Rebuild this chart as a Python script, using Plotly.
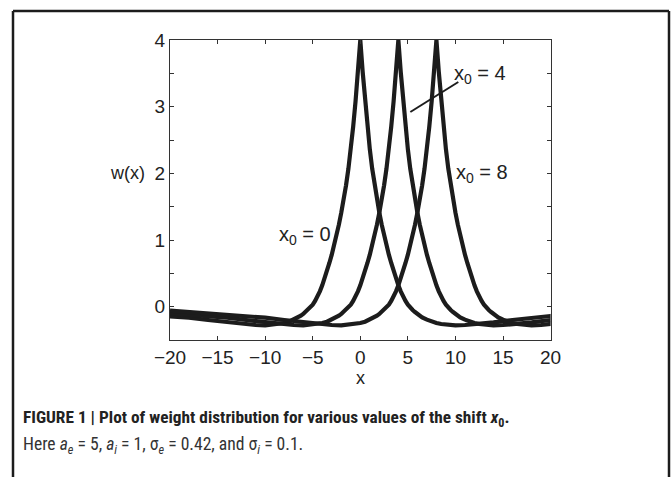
import plotly.graph_objects as go

# ---- data ----
shifts = [0, 4, 8]                      # x0 values
# one-sided profile of w around its peak (distance from x0, value)
offsets = [0, 0.25, 0.5, 0.75, 1, 1.25, 1.5, 1.75, 2, 2.25, 2.5, 2.75, 3, 3.25,
           3.5, 3.75, 4, 4.25, 4.5, 4.75, 5, 5.25, 5.5, 5.75, 6, 6.25, 6.5, 7,
           7.5, 8, 8.5, 9, 9.5, 10, 11, 12, 14, 16, 18, 20, 22, 24, 26, 28]
profile = [4.0, 3.52, 3.08, 2.7, 2.36, 2.07, 1.82, 1.6, 1.41, 1.23, 1.06, 0.92,
           0.78, 0.655, 0.53, 0.42, 0.32, 0.23, 0.15, 0.085, 0.03, -0.015, -0.05,
           -0.08, -0.11, -0.135, -0.16, -0.195, -0.225, -0.245, -0.26, -0.27,
           -0.275, -0.28, -0.275, -0.265, -0.235, -0.2, -0.165, -0.14, -0.12,
           -0.1, -0.08, -0.06]
x_ticks = [-20, -15, -10, -5, 0, 5, 10, 15, 20]
x_ticklabels = ["\u221220", "\u221215", "\u221210", "\u22125", "0", "5", "10", "15", "20"]
y_ticks = [-0.5, 0, 0.5, 1, 1.5, 2, 2.5, 3, 3.5, 4]
y_ticklabels = ["", "0", "", "1", "", "2", "", "3", "", "4"]

W, H = 671, 477
FONT = "Liberation Sans, Arial, Helvetica, sans-serif"
NARROW = "Liberation Sans Narrow, Arial Narrow, Roboto Condensed, sans-serif"
INK = "#1c1c1c"

fig = go.Figure()
for x0 in shifts:
    xs = [x0 - d for d in reversed(offsets[1:])] + [x0 + d for d in offsets]
    ys = list(reversed(profile[1:])) + list(profile)
    fig.add_trace(go.Scatter(x=xs, y=ys, mode="lines",
                             line=dict(color=INK, width=4.2), showlegend=False,
                             hoverinfo="skip", cliponaxis=True))

def px_x(p):
    return p / W

def px_y(p):
    return 1 - p / H

axis_common = dict(showgrid=False, zeroline=False, showline=True, linecolor="#333",
                   linewidth=1, ticks="inside", ticklen=4, tickcolor="#333",
                   mirror="ticks", automargin=False,
                   tickfont=dict(family=FONT, size=19, color="#222"))

fig.update_layout(
    width=W, height=H,
    margin=dict(l=0, r=0, t=0, b=0, pad=0, autoexpand=False),
    autosize=False,
    paper_bgcolor="white", plot_bgcolor="white",
    xaxis=dict(range=[-20, 20], domain=[px_x(170), px_x(550.6)],
               tickvals=x_ticks, ticktext=x_ticklabels, **axis_common),
    yaxis=dict(range=[-0.5, 4], domain=[px_y(340), px_y(40)],
               tickvals=y_ticks, ticktext=y_ticklabels, **axis_common),
)

ann = []
# axis labels
ann.append(dict(text="w(x)", xref="paper", yref="y", x=px_x(147), y=2,
                xanchor="right", yanchor="middle", showarrow=False,
                font=dict(family=FONT, size=18, color="#222")))
ann.append(dict(text="x", xref="paper", yref="paper", x=px_x(360), y=px_y(378),
                xanchor="center", yanchor="middle", showarrow=False,
                font=dict(family=FONT, size=18, color="#222")))
# curve labels
lab_font = dict(family=FONT, size=20, color="#222")
ann.append(dict(text="x<sub>0</sub> = 0", xref="paper", yref="paper",
                x=px_x(277), y=px_y(236), xanchor="left", yanchor="middle",
                showarrow=False, font=lab_font))
ann.append(dict(text="x<sub>0</sub> = 4", xref="paper", yref="paper",
                x=px_x(452), y=px_y(75), xanchor="left", yanchor="middle",
                showarrow=False, font=lab_font))
ann.append(dict(text="x<sub>0</sub> = 8", xref="paper", yref="paper",
                x=px_x(454), y=px_y(173), xanchor="left", yanchor="middle",
                showarrow=False, font=lab_font))
# caption
ann.append(dict(text="<b>FIGURE 1 | Plot of weight distribution for various values of the shift <i>x</i><sub>0</sub>.</b>",
                xref="paper", yref="paper", x=px_x(21), y=px_y(418),
                xanchor="left", yanchor="middle", showarrow=False,
                font=dict(family=NARROW, size=17.3, color="#222")))
ann.append(dict(text="Here <i>a</i><sub><i>e</i></sub> = 5, <i>a</i><sub><i>i</i></sub> = 1, "
                     "\u03c3<sub><i>e</i></sub> = 0.42, and \u03c3<sub><i>i</i></sub> = 0.1.",
                xref="paper", yref="paper", x=px_x(21), y=px_y(445),
                xanchor="left", yanchor="middle", showarrow=False,
                font=dict(family=NARROW, size=17.6, color="#333")))
fig.update_layout(annotations=ann)

shapes = []
# pointer line for x0 = 4
shapes.append(dict(type="line", xref="x", yref="y", x0=5.26, y0=2.92, x1=10.3, y1=3.37,
                   line=dict(color=INK, width=2)))
# outer frame (top, left, right)
frame = dict(color=INK, width=2.5)
shapes.append(dict(type="line", xref="paper", yref="paper",
                   x0=px_x(13), y0=px_y(11), x1=px_x(669), y1=px_y(11), line=frame))
shapes.append(dict(type="line", xref="paper", yref="paper",
                   x0=px_x(13), y0=px_y(11), x1=px_x(13), y1=0, line=frame))
shapes.append(dict(type="line", xref="paper", yref="paper",
                   x0=px_x(669), y0=px_y(11), x1=px_x(669), y1=0, line=frame))
fig.update_layout(shapes=shapes)

fig.write_html("out.html")
